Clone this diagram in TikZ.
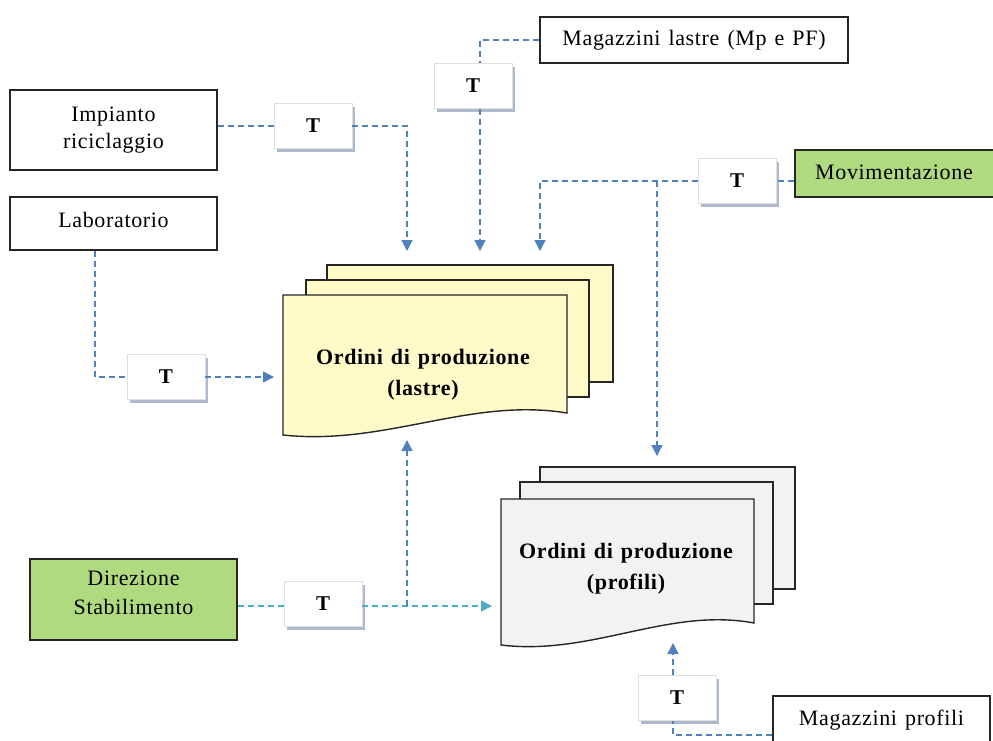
\documentclass[tikz,border=0pt]{standalone}
\usepackage{fontspec}
\setmainfont[LetterSpace=3,WordSpace=1.3]{Liberation Serif}
\usetikzlibrary{arrows.meta,shadows}
\definecolor{flow}{RGB}{79,129,189}
\definecolor{flowcyan}{RGB}{75,172,198}
\definecolor{greenbox}{RGB}{176,218,127}
\definecolor{paperyellow}{RGB}{255,250,200}
\definecolor{papergray}{RGB}{242,242,242}
\definecolor{tshadow}{RGB}{165,178,200}

% stacked sheet with a wavy lower edge: #1 left, #2 top, #3 right, #4 right foot, #5 left foot, #6 fill
\newcommand\wavysheet[6]{%
  \draw[sheet, fill=#6] (#1,#2) -- (#3,#2) -- (#3,#4)
    .. controls ({#3-0.34*(#3-#1)},{#4-16}) and ({#1+0.36*(#3-#1)},{#5+11}) .. (#1,#5) -- cycle;}

\begin{document}
\begin{tikzpicture}[x=1pt,y=-1pt,
  box/.style={draw=black!85, line width=1.3pt, fill=white, inner sep=0, align=center,
    font=\fontsize{22}{27}\selectfont},
  greenbox/.style={box, fill=greenbox},
  label text/.style={align=center, inner sep=0, font=\fontsize{22}{29}\selectfont},
  tbox/.style={draw=black!12, fill=white, minimum width=78, minimum height=45, inner sep=0,
    font=\fontsize{21}{24}\selectfont\bfseries,
    drop shadow={shadow xshift=2.5pt, shadow yshift=-3.5pt, fill=tshadow, opacity=0.9}},
  sheet/.style={draw=black!85, line width=1.4pt},
  doctext/.style={align=center, font=\fontsize{22}{31}\selectfont\bfseries},
  conn/.style={draw=flow, line width=1.3pt, dash pattern=on 6pt off 4pt},
  arr/.style={conn, -{Triangle[length=11pt,width=11pt]}},
]
\clip (0,0) rectangle (993,740);
\fill[white] (0,0) rectangle (993,740);

% sources
\node[box, minimum width=308, minimum height=46] (maglastre) at (694,40) {Magazzini lastre (Mp e PF)};
\node[box, minimum width=207, minimum height=80] (impianto) at (113.5,130) {Impianto\\riciclaggio};
\node[box, minimum width=207, minimum height=53] (lab) at (113.5,223.5) {\raisebox{8pt}{Laboratorio}};
\node[greenbox, minimum width=210, minimum height=47] (mov) at (900,173.5) {\raisebox{3pt}{Movimentazione}\hspace*{12pt}};
\node[greenbox, minimum width=207, minimum height=81] (dir) at (133.5,599.5) {};
\node[label text] (dirtext) at (133.5,593) {Direzione\\Stabilimento};
\node[box, minimum width=217, minimum height=52] (magprof) at (881.5,722) {\raisebox{8pt}{Magazzini profili}};

% transfer boxes
\node[tbox] (t1) at (473,86) {T};
\node[tbox] (t2) at (313,126) {T};
\node[tbox] (t3) at (166,377) {T};
\node[tbox] (t4) at (737,181) {T};
\node[tbox] (t5) at (323,604) {T};
\node[tbox] (t6) at (677,698) {T};

% production orders: sheets
\draw[sheet, fill=paperyellow] (327,265) rectangle (613,382);
\draw[sheet, fill=paperyellow] (306,280) rectangle (589,397);
\wavysheet{283}{295}{567}{413}{435}{paperyellow}
\node[doctext] (lastre) at (423,375) {Ordini di produzione\\(lastre)};

\draw[sheet, fill=papergray] (540,467) rectangle (795,589);
\draw[sheet, fill=papergray] (520,482) rectangle (773,604);
\wavysheet{501}{499}{754}{623}{645}{papergray}
\node[doctext] (profili) at (626,569) {Ordini di produzione\\(profili)};

% arrow targets and junctions
\coordinate (inA) at (480,251);
\coordinate (inB) at (407,251);
\coordinate (inC) at (274,377);
\coordinate (inD) at (540,251);
\coordinate (inE) at (657,456);
\coordinate (inF) at (492,606);
\coordinate (inG) at (407,440);
\coordinate (inH) at (673,643);
\coordinate (jmov) at (657,181);
\coordinate (jdir) at (407,606);

% connectors
\draw[conn] (maglastre.west) -| ([xshift=7pt]t1.north);
\draw[arr] ([xshift=7pt]t1.south) -- (inA);

\draw[conn] (impianto.east |- t2.west) -- (t2.west);
\draw[arr] (t2.east) -| (inB);

\draw[conn] ([xshift=-18.5pt]lab.south) |- (t3.west);
\draw[arr] (t3.east) -- (inC);

\draw[conn] (mov.west |- t4.east) -- (t4.east);
\draw[arr] (t4.west) -| (inD);
\draw[arr] (jmov) -- (inE);

\draw[conn, draw=flowcyan] (dir.east |- inF) -- (t5.west |- inF);
\draw[arr, draw=flowcyan] (t5.east |- inF) -- (inF);
\draw[arr] (jdir) -- (inG);

\draw[conn] ([yshift=-13pt]magprof.west) -| ([xshift=-4pt]t6.south);
\draw[arr] ([xshift=-4pt]t6.north) -- (inH);
\end{tikzpicture}
\end{document}
